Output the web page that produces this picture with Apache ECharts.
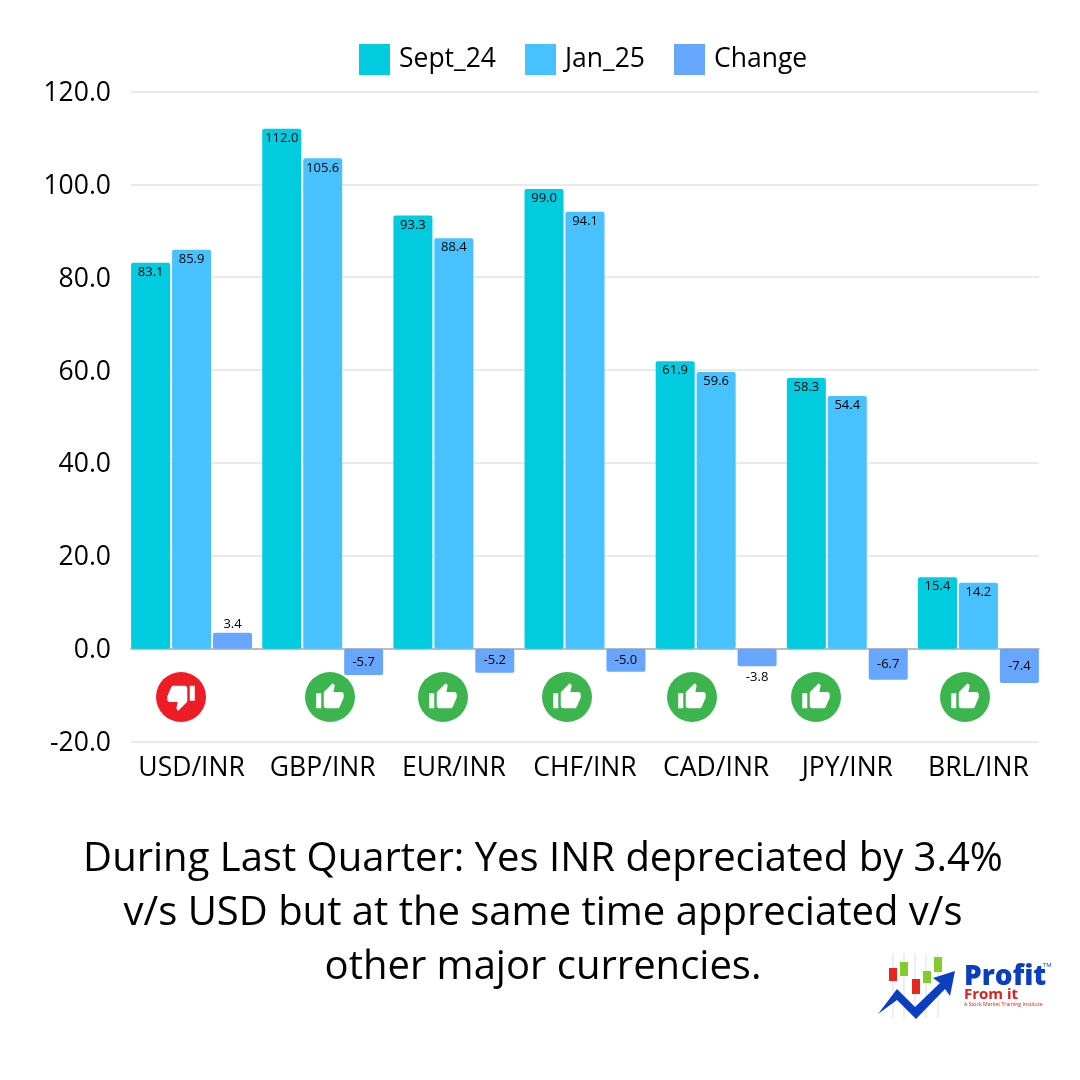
<!DOCTYPE html>
<html>
<head>
<meta charset="UTF-8">
<title>INR v/s major currencies</title>
<style>
html, body { margin: 0; padding: 0; background: #fff; }
#main { width: 1080px; height: 1080px; }
</style>
</head>
<body>
<div id="main"></div>
<script src="https://cdn.jsdelivr.net/npm/echarts@6/dist/echarts.min.js"></script>
<script>
var categories = ['USD/INR', 'GBP/INR', 'EUR/INR', 'CHF/INR', 'CAD/INR', 'JPY/INR', 'BRL/INR'];
var sept24 = [83.1, 112.0, 93.3, 99.0, 61.9, 58.3, 15.4];
var jan25 = [85.9, 105.6, 88.4, 94.1, 59.6, 54.4, 14.2];
var change = [3.4, -5.7, -5.2, -5.0, -3.8, -6.7, -7.4];
var seriesNames = ['Sept_24', 'Jan_25', 'Change'];
var headline = 'During Last Quarter: Yes INR depreciated by 3.4%\nv/s USD but at the same time appreciated v/s\nother major currencies.';

var FONT = '"Open Sans", sans-serif';
var THUMB_UP = 'M1 21h4V9H1v12zm22-11c0-1.1-.9-2-2-2h-6.31l.95-4.57.03-.32c0-.41-.17-.79-.44-1.06L14.17 1 7.59 7.59C7.22 7.95 7 8.45 7 9v10c0 1.1.9 2 2 2h9c.83 0 1.54-.5 1.84-1.22l3.02-7.05c.09-.23.14-.47.14-.73v-2z';
var THUMB_DOWN = 'M15 3H6c-.83 0-1.54.5-1.84 1.22l-3.02 7.05c-.09.23-.14.47-.14.73v2c0 1.1.9 2 2 2h6.31l-.95 4.57-.03.32c0 .41.17.79.44 1.06L9.83 23l6.59-6.59c.36-.36.58-.86.58-1.41V5c0-1.1-.9-2-2-2zm4 0v12h4V3h-4z';

// the graphic component has no plain path type, so register the two glyphs
echarts.graphic.registerShape('thumbUp', echarts.graphic.extendPath(THUMB_UP, {}));
echarts.graphic.registerShape('thumbDown', echarts.graphic.extendPath(THUMB_DOWN, {}));

// verdict badges under the bars, not centred on the categories in the original
function badge(cx, good) {
	return {
		type: 'group',
		x: cx,
		y: 697,
		children: [{
			type: 'circle',
			shape: { cx: 0, cy: 0, r: 25 },
			style: { fill: good ? '#3cb54e' : '#ee1c25' }
		}, {
			type: good ? 'thumbUp' : 'thumbDown',
			x: -15,
			y: -15,
			scaleX: 1.25,
			scaleY: 1.25,
			style: { fill: '#fff' }
		}]
	};
}

function barSeries(i, color, values, labelFor) {
	return {
		name: seriesNames[i],
		type: 'bar',
		xAxisIndex: 1,
		yAxisIndex: 1,
		barWidth: 39,
		barGap: '5%',
		itemStyle: { color: color, borderRadius: 2 },
		data: values.map(function(v) {
			return { value: v, label: labelFor(v) };
		}),
		label: {
			show: true,
			color: '#000',
			fontFamily: FONT,
			fontSize: 13,
			formatter: function(p) { return p.value.toFixed(1); }
		}
	};
}

function insideLabel() {
	return { position: 'insideTop', distance: 3 };
}

// small change bars cannot hold their label, it goes outside
function changeLabel(v) {
	if (Math.abs(v) < 4) {
		return { position: v > 0 ? 'top' : 'bottom', distance: v > 0 ? 2 : 5 };
	}
	return { position: 'inside' };
}

var myChart = echarts.init(document.getElementById('main'));

var option = {
	backgroundColor: '#fff',
	animation: false,
	textStyle: { fontFamily: FONT },
	legend: {
		left: 354,
		top: 39,
		itemWidth: 31,
		itemHeight: 31,
		itemGap: 29,
		icon: 'rect',
		data: seriesNames,
		textStyle: { fontSize: 26.5, color: '#000', fontFamily: FONT, padding: [0, 0, 0, 4] }
	},
	title: {
		text: headline,
		left: 538,
		top: 828,
		textAlign: 'center',
		textStyle: {
			fontSize: 40,
			fontWeight: 'normal',
			color: '#000',
			lineHeight: 54,
			fontFamily: FONT
		}
	},
	// grid 0 carries the gridlines, grid 1 is a bit wider so the bars fill the plot edge to edge
	grid: [
		{ left: 131, right: 41, top: 91.5, bottom: 338.5 },
		{ left: 126, right: 36, top: 91.5, bottom: 338.5 }
	],
	xAxis: [{
		type: 'category',
		gridIndex: 0,
		data: categories,
		axisLine: { onZero: true, lineStyle: { color: '#bdbdbd', width: 2 } },
		axisTick: { show: false },
		axisLabel: { show: false }
	}, {
		type: 'category',
		gridIndex: 1,
		data: categories,
		position: 'bottom',
		axisLine: { show: false, onZero: false },
		axisTick: { show: false },
		axisLabel: { fontSize: 26.5, color: '#000', margin: 13, interval: 0, fontFamily: FONT }
	}],
	yAxis: [{
		type: 'value',
		gridIndex: 0,
		min: -20,
		max: 120,
		interval: 20,
		axisLine: { show: false },
		axisTick: { show: false },
		splitLine: { lineStyle: { color: '#e3e3e3', width: 1.5 } },
		axisLabel: {
			fontSize: 26.5,
			color: '#000',
			margin: 20,
			verticalAlign: 'top',
			lineHeight: 4,
			fontFamily: FONT,
			formatter: function(v) { return v.toFixed(1); }
		}
	}, {
		type: 'value',
		gridIndex: 1,
		min: -20,
		max: 120,
		interval: 20,
		show: false
	}],
	series: [
		barSeries(0, '#00cbdf', sept24, insideLabel),
		barSeries(1, '#48c2ff', jan25, insideLabel),
		barSeries(2, '#67a6fd', change, changeLabel)
	],
	graphic: [
		badge(181, false), badge(330, true), badge(443, true), badge(567, true),
		badge(692, true), badge(816, true), badge(965, true),
		// logo
		{ type: 'group', x: 860, y: 940, children: [
			{ type: 'line', shape: { x1: 33, y1: 14, x2: 33, y2: 78 }, style: { stroke: '#ddd', lineWidth: 1 } },
			{ type: 'line', shape: { x1: 44, y1: 14, x2: 44, y2: 78 }, style: { stroke: '#ddd', lineWidth: 1 } },
			{ type: 'line', shape: { x1: 55, y1: 14, x2: 55, y2: 78 }, style: { stroke: '#ddd', lineWidth: 1 } },
			{ type: 'line', shape: { x1: 66, y1: 14, x2: 66, y2: 78 }, style: { stroke: '#ddd', lineWidth: 1 } },
			{ type: 'line', shape: { x1: 78, y1: 14, x2: 78, y2: 78 }, style: { stroke: '#ddd', lineWidth: 1 } },
			{ type: 'rect', shape: { x: 29, y: 28, width: 8, height: 13 }, style: { fill: '#e8251f' } },
			{ type: 'rect', shape: { x: 40, y: 22, width: 8, height: 14 }, style: { fill: '#84cc2c' } },
			{ type: 'rect', shape: { x: 52, y: 39, width: 8, height: 15 }, style: { fill: '#e8251f' } },
			{ type: 'rect', shape: { x: 63, y: 31, width: 8, height: 12 }, style: { fill: '#84cc2c' } },
			{ type: 'rect', shape: { x: 74, y: 17, width: 8, height: 15 }, style: { fill: '#84cc2c' } },
			{ type: 'polygon', shape: { points: [[18, 74], [37, 49], [55, 67], [80, 43], [73, 38], [95, 31], [90, 56], [85, 49], [56, 79], [37, 60]] }, style: { fill: '#0a3fc0' } },
			{ type: 'text', style: { x: 104, y: 23, text: 'Profit', fill: '#0a3fc0', font: '800 28px ' + FONT } },
			{ type: 'text', style: { x: 104, y: 47, text: 'From it', fill: '#d8201c', font: 'bold 15px ' + FONT } },
			{ type: 'text', style: { x: 104, y: 62, text: 'A Stock Market Training Institute', fill: '#d8201c', font: '5.2px ' + FONT } },
			{ type: 'text', style: { x: 183, y: 22, text: 'TM', fill: '#0a3fc0', font: '6px ' + FONT } }
		] }
	]
};

myChart.setOption(option);
</script>
</body>
</html>
